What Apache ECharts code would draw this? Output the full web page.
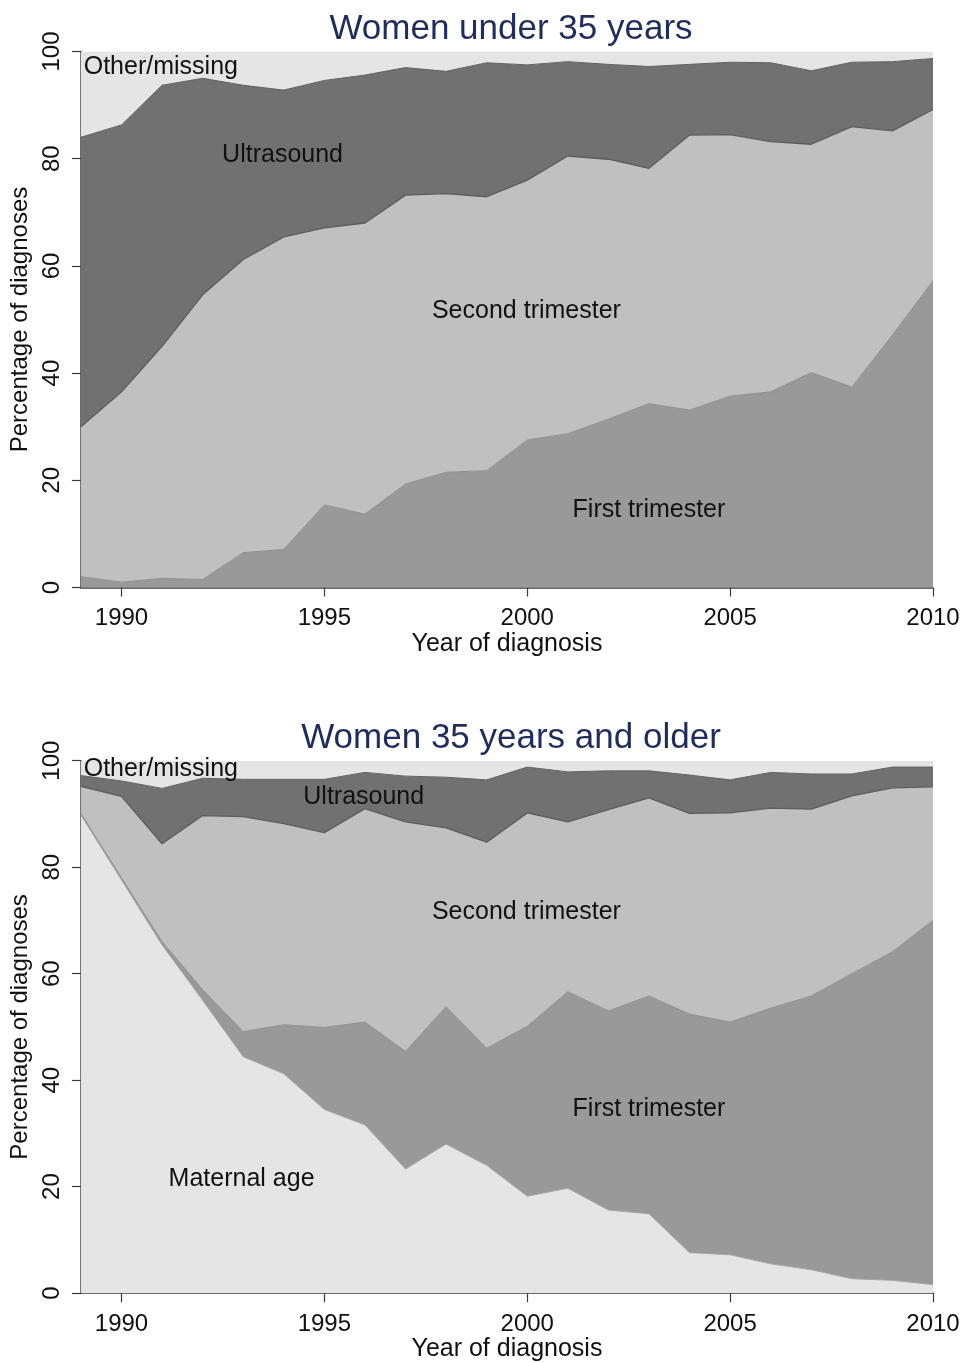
<!DOCTYPE html>
<html>
<head>
<meta charset="utf-8">
<script src="https://cdn.jsdelivr.net/npm/echarts@6/dist/echarts.min.js"></script>
<style>
html,body{margin:0;padding:0;background:#fff;}
#chart{width:964px;height:1363px;}
</style>
</head>
<body>
<div id="chart"></div>
<script>
// ---- data ----
const years = [1989,1990,1991,1992,1993,1994,1995,1996,1997,1998,1999,2000,2001,2002,2003,2004,2005,2006,2007,2008,2009,2010];
const xTicks = [1990,1995,2000,2005,2010];

// Women under 35 years (percent of diagnoses by method)
const u35First      = [2.0,1.0,1.7,1.5,6.5,7.1,15.4,13.7,19.3,21.5,21.8,27.5,28.7,31.4,34.3,33.1,35.7,36.5,40.1,37.4,47.1,57.2];
const u35Second     = [28.0,35.5,43.3,53.1,54.7,58.3,51.7,54.3,53.9,52.0,51.1,48.5,51.8,48.5,43.9,51.3,48.8,46.7,42.6,48.6,38.1,32.0];
const u35Ultrasound = [54.0,49.8,48.7,40.4,32.5,27.4,27.5,27.6,23.8,22.8,25.0,21.5,17.6,17.7,19.0,13.2,13.5,14.7,13.7,12.0,12.9,9.5];
const u35Other      = [16.0,13.7,6.3,5.0,6.3,7.2,5.4,4.4,3.0,3.7,2.1,2.5,1.9,2.4,2.8,2.4,2.0,2.1,3.6,2.0,1.9,1.3];

// Women 35 years and older
const o35Maternal   = [89.8,77.6,65.4,55.0,44.4,41.2,34.5,31.6,23.3,28.0,24.0,18.2,19.7,15.6,14.9,7.6,7.2,5.5,4.4,2.7,2.4,1.6];
const o35First      = [0.3,0.4,0.6,2.0,4.7,9.2,15.4,19.3,22.1,25.8,22.0,31.9,36.9,37.4,40.9,44.8,43.7,48.0,51.4,57.3,61.7,68.4];
const o35Second     = [5.1,15.3,18.4,32.7,40.4,37.8,36.6,40.1,43.1,33.6,38.7,40.1,31.9,37.8,37.2,37.7,39.3,37.6,35.1,33.4,30.8,25.1];
const o35Ultrasound = [2.0,2.9,10.4,7.0,7.0,8.3,10.0,6.8,8.6,9.5,11.7,8.6,9.4,7.3,5.1,7.2,6.2,6.7,6.6,4.1,3.9,3.7];
const o35Other      = [2.8,3.8,5.2,3.3,3.5,3.5,3.5,2.2,2.9,3.1,3.6,1.2,2.1,1.9,1.9,2.7,3.6,2.2,2.5,2.5,1.2,1.2];

const titles = ['Women under 35 years','Women 35 years and older'];

// in-plot area labels: [text, year position, percent position]
const u35Labels = [['Other/missing',1990.97,97.1],['Ultrasound',1993.97,80.6],['Second trimester',1999.98,51.5],['First trimester',2003.0,14.4]];
const o35Labels = [['Other/missing',1990.97,98.4],['Ultrasound',1995.97,93.1],['Second trimester',1999.98,71.5],['First trimester',2003.0,34.5],['Maternal age',1992.96,21.5]];

// ---- style ----
const FONT = '"Liberation Sans", Arial, sans-serif';
const COL = { light:'#e5e5e5', second:'#c0c0c0', first:'#999999', us:'#717171' };
const LINE = { light:'#a5a5a5', second:'#5c5c5c', first:'#8e8e8e', us:'#606060' };
const axisColor = '#3a3a3a';
const catYears = years.map(String);
const isTick = (v) => xTicks.indexOf(Number(v)) >= 0;

function areaSeries(name, arr, gi, stack, fill, line, lw){
  return {
    name: name, type:'line', xAxisIndex:gi*2, yAxisIndex:gi, stack:stack,
    data: arr.slice(), symbol:'none', smooth:false, silent:true,
    lineStyle:{color:line, width:lw},
    areaStyle:{color:fill, opacity:1},
    itemStyle:{color:fill}
  };
}
function labelSeries(labels, gi){
  return {
    type:'scatter', xAxisIndex:gi*2+1, yAxisIndex:gi, silent:true,
    symbolSize:0, z:10,
    itemStyle:{opacity:1, color:'#111'},
    data: labels.map(l => ({name:l[0], value:[l[1], l[2]]})),
    label:{show:true, position:'inside', formatter:'{b}', fontFamily:FONT, fontSize:25, color:'#111', opacity:1}
  };
}

const grids = [
  {left:79, right:31, top:51.5, height:536},
  {left:79, right:31, top:760.7, height:536}
];

function xAxis(gi){
  return {
    type:'category', gridIndex:gi, data:catYears, boundaryGap:false,
    name:'Year of diagnosis', nameLocation:'middle', nameGap:43,
    nameTextStyle:{fontFamily:FONT, fontSize:25, color:'#111'},
    axisLine:{show:true, onZero:false, lineStyle:{color:axisColor, width:1.5}},
    axisTick:{show:true, length:9, interval:(i,v)=>isTick(v), lineStyle:{color:axisColor, width:1.2}},
    axisLabel:{show:true, interval:(i,v)=>isTick(v), margin:19, fontFamily:FONT, fontSize:24, color:'#111'},
    splitLine:{show:false}
  };
}
function xAxisHidden(gi){
  return { type:'value', gridIndex:gi, min:1989, max:2010, show:false, splitLine:{show:false} };
}
function yAxis(gi){
  return {
    type:'value', gridIndex:gi, min:0, max:100, interval:20,
    name:'Percentage of diagnoses', nameLocation:'middle', nameGap:41,
    nameTextStyle:{fontFamily:FONT, fontSize:24, color:'#111'},
    axisLine:{show:true, lineStyle:{color:axisColor, width:1.5}},
    axisTick:{show:true, length:9, lineStyle:{color:axisColor, width:1.2}},
    axisLabel:{show:true, rotate:90, margin:17, fontFamily:FONT, fontSize:24, color:'#111'},
    splitLine:{show:false}
  };
}

const series = [
  areaSeries('First trimester', u35First, 0, 'a', COL.first, LINE.first, 1),
  areaSeries('Second trimester', u35Second, 0, 'a', COL.second, LINE.second, 1.3),
  areaSeries('Ultrasound', u35Ultrasound, 0, 'a', COL.us, LINE.us, 1),
  areaSeries('Other/missing', u35Other, 0, 'a', COL.light, COL.light, 0),
  labelSeries(u35Labels, 0),
  areaSeries('Maternal age', o35Maternal, 1, 'b', COL.light, LINE.light, 1),
  areaSeries('First trimester', o35First, 1, 'b', COL.first, LINE.first, 1),
  areaSeries('Second trimester', o35Second, 1, 'b', COL.second, LINE.second, 1.3),
  areaSeries('Ultrasound', o35Ultrasound, 1, 'b', COL.us, LINE.us, 1),
  areaSeries('Other/missing', o35Other, 1, 'b', COL.light, COL.light, 0),
  labelSeries(o35Labels, 1)
];

const chart = echarts.init(document.getElementById('chart'), null, {renderer:'canvas'});
chart.setOption({
  animation:false,
  backgroundColor:'#ffffff',
  title:[
    {text:titles[0], left:506, top:7, textAlign:'center', textStyle:{fontFamily:FONT, fontSize:35, fontWeight:'normal', color:'#1f2d5c'}},
    {text:titles[1], left:506, top:716, textAlign:'center', textStyle:{fontFamily:FONT, fontSize:35, fontWeight:'normal', color:'#1f2d5c'}}
  ],
  grid:grids,
  xAxis:[xAxis(0), xAxisHidden(0), xAxis(1), xAxisHidden(1)],
  yAxis:[yAxis(0), yAxis(1)],
  series:series
});
</script>
</body>
</html>
